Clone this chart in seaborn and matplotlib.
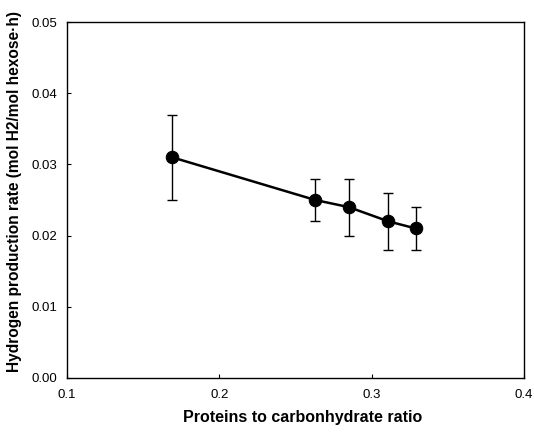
import matplotlib
matplotlib.use("Agg")
import matplotlib.pyplot as plt
import seaborn as sns
import pandas as pd

# values
ratio = [0.169, 0.263, 0.285, 0.311, 0.329]
rate = [0.031, 0.025, 0.024, 0.022, 0.021]
err_low = [0.006, 0.003, 0.004, 0.004, 0.003]
err_high = [0.006, 0.003, 0.004, 0.004, 0.003]
x_ticks = [0.1, 0.2, 0.3, 0.4]
y_ticks = [0.00, 0.01, 0.02, 0.03, 0.04, 0.05]

df = pd.DataFrame({"ratio": ratio, "rate": rate})

sns.set_style("ticks")
plt.rcParams["font.family"] = ["Liberation Sans", "DejaVu Sans"]
plt.rcParams["text.color"] = "black"
plt.rcParams["axes.labelcolor"] = "black"

fig = plt.figure(figsize=(5.34, 4.32), dpi=100)
ax = fig.add_axes([0.1255, 0.125, 0.8558, 0.824])

ax.errorbar(df["ratio"], df["rate"], yerr=[err_low, err_high], fmt="none",
            ecolor="black", elinewidth=1, capsize=3.6, capthick=1, zorder=2)
sns.lineplot(data=df, x="ratio", y="rate", ax=ax, color="black", linewidth=1.8,
             marker="o", markersize=9, markeredgecolor="black", zorder=3)

ax.set_xlim(0.1, 0.4)
ax.set_ylim(0, 0.05)
ax.set_xticks(x_ticks)
ax.set_xticklabels([f"{t:g}" for t in x_ticks])
ax.set_yticks(y_ticks)
ax.set_yticklabels([f"{t:.2f}" for t in y_ticks])
ax.tick_params(direction="in", length=3, width=0.8, labelsize=9.5, colors="black")
ax.tick_params(axis="x", pad=8)
ax.tick_params(axis="y", pad=7)

for s in ax.spines.values():
    s.set_color("black")
    s.set_linewidth(1)

ax.set_xlabel("Proteins to carbonhydrate ratio", fontsize=11.5, fontweight="bold")
ax.set_ylabel("Hydrogen production rate (mol H2/mol hexose\u00b7h)", fontsize=11.2,
              fontweight="bold")
ax.xaxis.set_label_coords(0.515, -0.09)
ax.yaxis.set_label_coords(-0.098, 0.525)

fig.savefig("out.png", dpi=100)
